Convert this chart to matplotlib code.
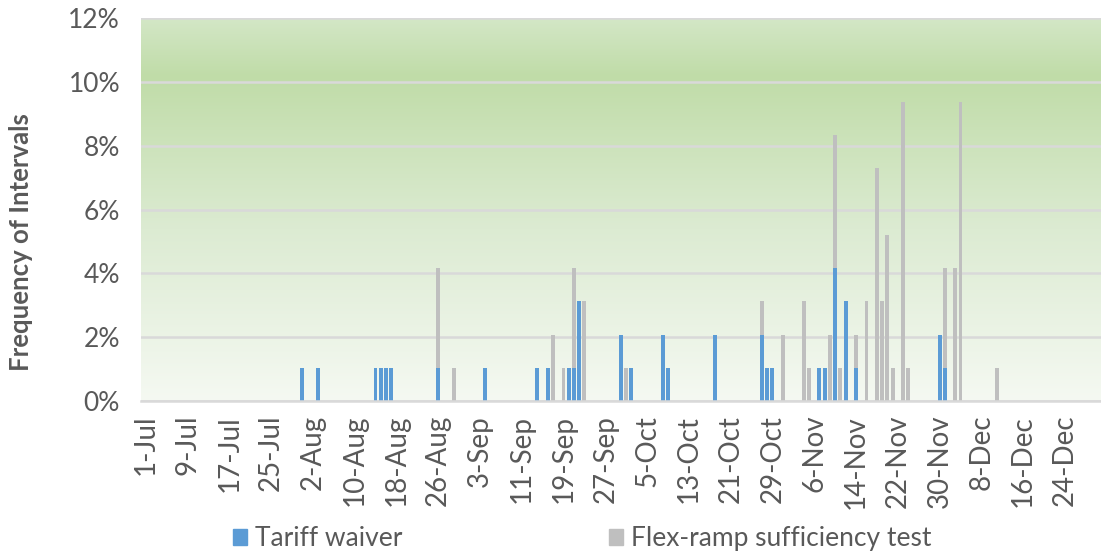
import numpy as np
import pandas as pd
import matplotlib
matplotlib.use("Agg")
import matplotlib.pyplot as plt
from matplotlib.colors import LinearSegmentedColormap
from matplotlib.patches import Patch

plt.rcParams['font.family'] = ['Lato', 'DejaVu Sans']

# daily share of intervals (%), Jul-Dec
dates = ['07-31', '08-03', '08-14', '08-15', '08-16', '08-17', '08-26', '08-29',
         '09-04', '09-14', '09-16', '09-17', '09-19', '09-20', '09-21', '09-22',
         '09-23', '09-30', '10-01', '10-02', '10-08', '10-09', '10-18', '10-27',
         '10-28', '10-29', '10-31', '11-04', '11-05', '11-07', '11-08', '11-09',
         '11-10', '11-11', '11-12', '11-14', '11-16', '11-18', '11-19', '11-20',
         '11-21', '11-23', '11-24', '11-30', '12-01', '12-03', '12-04', '12-11']
tariff = [1.04, 1.04, 1.04, 1.04, 1.04, 1.04, 1.04, 0,
          1.04, 1.04, 1.04, 0, 0, 1.04, 1.04, 3.13,
          0, 2.08, 0, 1.04, 2.08, 1.04, 2.08, 2.08,
          1.04, 1.04, 0, 0, 0, 1.04, 1.04, 0,
          4.17, 0, 3.13, 1.04, 0, 0, 0, 0,
          0, 0, 0, 2.08, 1.04, 0, 0, 0]
flex = [0, 0, 0, 0, 0, 0, 3.13, 1.04,
        0, 0, 0, 2.08, 1.04, 0, 3.13, 0,
        3.13, 0, 1.04, 0, 0, 0, 0, 1.04,
        0, 0, 2.08, 3.13, 1.04, 0, 0, 2.08,
        4.17, 1.04, 0, 1.04, 3.13, 7.29, 3.13, 5.21,
        1.04, 9.38, 1.04, 0, 3.13, 4.17, 9.38, 1.04]
tick_labels = ['1-Jul', '9-Jul', '17-Jul', '25-Jul', '2-Aug', '10-Aug', '18-Aug',
               '26-Aug', '3-Sep', '11-Sep', '19-Sep', '27-Sep', '5-Oct', '13-Oct',
               '21-Oct', '29-Oct', '6-Nov', '14-Nov', '22-Nov', '30-Nov', '8-Dec',
               '16-Dec', '24-Dec']

start = pd.Timestamp('2019-07-01')
day = np.array([(pd.Timestamp('2019-' + d) - start).days for d in dates])
tick_pos = np.array([(pd.Timestamp(t + '-2019') - start).days for t in tick_labels])
tariff = np.array(tariff)
flex = np.array(flex)

blue = '#5b9bd5'
gray = '#bfbfbf'
txt = '#595959'

fig = plt.figure(figsize=(11.01, 5.53), dpi=100)
ax = fig.add_axes([0.128, 0.275, 0.872, 0.692])

# green gradient fill of the plot area
cmap = LinearSegmentedColormap.from_list('bg', [(0.0, '#f5f9f2'), (0.45, '#dcebd2'),
                                               (0.85, '#c0dca8'), (1.0, '#d3e7c6')])
grad = np.linspace(0, 1, 256).reshape(-1, 1)
ax.imshow(grad, cmap=cmap, aspect='auto', origin='lower', extent=[0, 1, 0, 1],
          transform=ax.transAxes, zorder=0)

ax.bar(day, tariff, width=0.75, color=blue, zorder=3, label='Tariff waiver')
ax.bar(day, flex, width=0.75, bottom=tariff, color=gray, zorder=3,
       label='Flex-ramp sufficiency test')

ax.set_xlim(-0.9, 182.9)
ax.set_ylim(0, 12)
ax.set_yticks(np.arange(0, 13, 2))
ax.set_yticklabels([f'{v}%' for v in range(0, 13, 2)])
ax.set_xticks(tick_pos)
ax.set_xticklabels(tick_labels, rotation=90)
ax.yaxis.grid(True, color='#d9d9d9', lw=1.8, zorder=1)
ax.set_axisbelow(False)
ax.tick_params(axis='both', length=0, colors=txt)
ax.tick_params(axis='y', pad=15, labelsize=19)
ax.tick_params(axis='x', pad=10, labelsize=20)
for s in ['top', 'right', 'left']:
    ax.spines[s].set_visible(False)
ax.spines['bottom'].set_color('#d9d9d9')
ax.spines['bottom'].set_linewidth(1.8)
ax.spines['bottom'].set_zorder(4)

ax.set_ylabel('Frequency of Intervals', fontsize=18.5, fontweight='bold', color=txt)
ax.yaxis.set_label_coords(-0.112, 0.415)

handles = [Patch(color=blue), Patch(color=gray)]
fig.legend(handles, ['Tariff waiver', 'Flex-ramp sufficiency test'], ncol=2,
           loc='lower left', bbox_to_anchor=(0.19, -0.04), frameon=False,
           fontsize=19, labelcolor=txt, handlelength=0.55, handleheight=0.55,
           handletextpad=0.3, columnspacing=7.8)

fig.savefig('out.png', dpi=100)
